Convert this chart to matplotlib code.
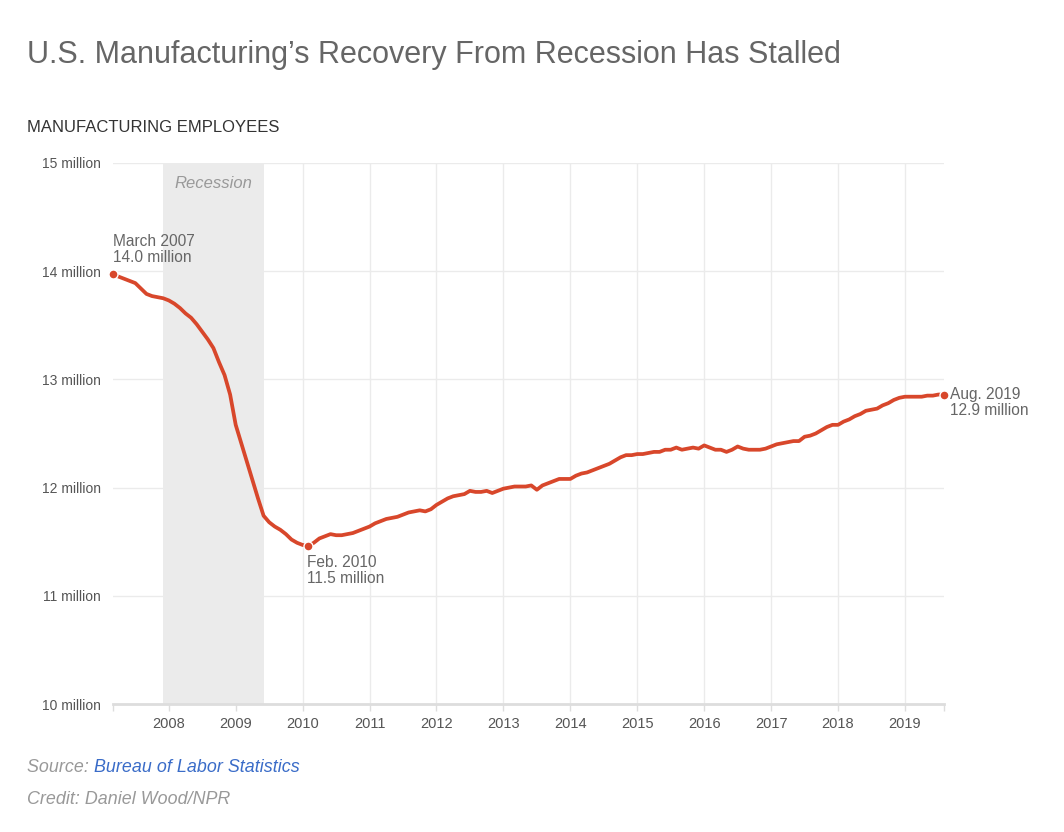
import numpy as np
import matplotlib
matplotlib.use("Agg")
import matplotlib.pyplot as plt

plt.rcParams['font.family'] = ['Liberation Sans', 'DejaVu Sans']

# monthly manufacturing employees, millions, March 2007 .. August 2019
emp_2007 = [13.97, 13.95, 13.93, 13.91, 13.89, 13.84, 13.79, 13.77, 13.76, 13.75]
emp_2008 = [13.73, 13.70, 13.66, 13.61, 13.57, 13.51, 13.44, 13.37, 13.29, 13.16, 13.04, 12.86]
emp_2009 = [12.58, 12.41, 12.24, 12.07, 11.90, 11.74, 11.68, 11.64, 11.61, 11.57, 11.52, 11.49]
emp_2010 = [11.47, 11.46, 11.49, 11.53, 11.55, 11.57, 11.56, 11.56, 11.57, 11.58, 11.60, 11.62]
emp_2011 = [11.64, 11.67, 11.69, 11.71, 11.72, 11.73, 11.75, 11.77, 11.78, 11.79, 11.78, 11.80]
emp_2012 = [11.84, 11.87, 11.90, 11.92, 11.93, 11.94, 11.97, 11.96, 11.96, 11.97, 11.95, 11.97]
emp_2013 = [11.99, 12.00, 12.01, 12.01, 12.01, 12.02, 11.98, 12.02, 12.04, 12.06, 12.08, 12.08]
emp_2014 = [12.08, 12.11, 12.13, 12.14, 12.16, 12.18, 12.20, 12.22, 12.25, 12.28, 12.30, 12.30]
emp_2015 = [12.31, 12.31, 12.32, 12.33, 12.33, 12.35, 12.35, 12.37, 12.35, 12.36, 12.37, 12.36]
emp_2016 = [12.39, 12.37, 12.35, 12.35, 12.33, 12.35, 12.38, 12.36, 12.35, 12.35, 12.35, 12.36]
emp_2017 = [12.38, 12.40, 12.41, 12.42, 12.43, 12.43, 12.47, 12.48, 12.50, 12.53, 12.56, 12.58]
emp_2018 = [12.58, 12.61, 12.63, 12.66, 12.68, 12.71, 12.72, 12.73, 12.76, 12.78, 12.81, 12.83]
emp_2019 = [12.84, 12.84, 12.84, 12.84, 12.85, 12.85, 12.86, 12.86]

values = np.array(emp_2007 + emp_2008 + emp_2009 + emp_2010 + emp_2011 + emp_2012 +
                  emp_2013 + emp_2014 + emp_2015 + emp_2016 + emp_2017 + emp_2018 + emp_2019)
dates = 2007 + 2 / 12 + np.arange(len(values)) / 12   # decimal years, first = March 2007

recession = (2007 + 11 / 12, 2009 + 5 / 12)   # Dec 2007 .. Jun 2009
years = list(range(2008, 2020))
y_ticks = [10, 11, 12, 13, 14, 15]
y_labels = ['%d million' % v for v in y_ticks]

red = '#d8472b'
grid_c = '#ebebeb'

fig = plt.figure(figsize=(10.64, 8.32), dpi=100)
ax = fig.add_axes([113 / 1064, 1 - 704 / 832, 831 / 1064, 541 / 832])

ax.axvspan(recession[0], recession[1], color='#ebebeb', lw=0, zorder=0)
ax.text((recession[0] + recession[1]) / 2, 14.81, 'Recession', ha='center', va='center',
        style='italic', color='#999999', fontsize=12)

for yv in y_ticks[1:]:
    ax.axhline(yv, color=grid_c, lw=1, zorder=1)
for yr in years:
    ax.axvline(yr, ymin=0, ymax=1, color=grid_c, lw=1, zorder=1)

ax.plot(dates, values, color=red, lw=2.7, zorder=3, solid_capstyle='round')

# highlighted points
i_min = int(np.argmin(values))
for i in [0, i_min, len(values) - 1]:
    ax.plot(dates[i], values[i], 'o', color=red, ms=6.5, mec='white', mew=1, zorder=4,
            clip_on=False)

ax.text(dates[0], values[0] + 0.09, 'March 2007\n%.1f million' % values[0], ha='left', va='bottom',
        color='#666666', fontsize=11.2, linespacing=1.1)
ax.text(dates[i_min] - 0.02, values[i_min] - 0.08, 'Feb. 2010\n%.1f million' % values[i_min],
        ha='left', va='top', color='#666666', fontsize=11.2, linespacing=1.1)
ax.text(dates[-1] + 0.09, values[-1] + 0.07, 'Aug. 2019\n%.1f million' % values[-1],
        ha='left', va='top', color='#666666', fontsize=11.2, linespacing=1.1)

ax.set_xlim(dates[0], dates[-1])
ax.set_ylim(10, 15)
ax.set_yticks(y_ticks)
ax.set_yticklabels(y_labels)
ax.set_xticks([dates[0]] + years + [dates[-1]])
ax.set_xticklabels([''] + [str(y) for y in years] + [''])
ax.tick_params(axis='y', length=0, pad=9, labelsize=10, labelcolor='#555555')
ax.tick_params(axis='x', length=5, width=1, color='#dddddd', pad=4, labelsize=10.5,
               labelcolor='#555555')
for s in ['top', 'right', 'left']:
    ax.spines[s].set_visible(False)
ax.spines['bottom'].set_color('#dddddd')
ax.spines['bottom'].set_linewidth(2)

fig.text(27 / 1064, 1 - 55 / 832, 'U.S. Manufacturing\u2019s Recovery From Recession Has Stalled',
         ha='left', va='center', fontsize=22, color='#666666')
fig.text(27 / 1064, 1 - 127 / 832, 'MANUFACTURING EMPLOYEES', ha='left', va='center',
         fontsize=12, color='#333333')

# footer
src = fig.text(27 / 1064, 1 - 768 / 832, 'Source: ', ha='left', va='center', style='italic',
               fontsize=12.9, color='#999999')
fig.canvas.draw()
bb = src.get_window_extent(fig.canvas.get_renderer())
fig.text(bb.x1 / 1064, 1 - 768 / 832, 'Bureau of Labor Statistics', ha='left', va='center',
         style='italic', fontsize=12.9, color='#3a6cc8')
fig.text(27 / 1064, 1 - 800 / 832, 'Credit: Daniel Wood/NPR', ha='left', va='center',
         style='italic', fontsize=12.9, color='#999999')

fig.savefig('out.png', dpi=100, facecolor='white')
